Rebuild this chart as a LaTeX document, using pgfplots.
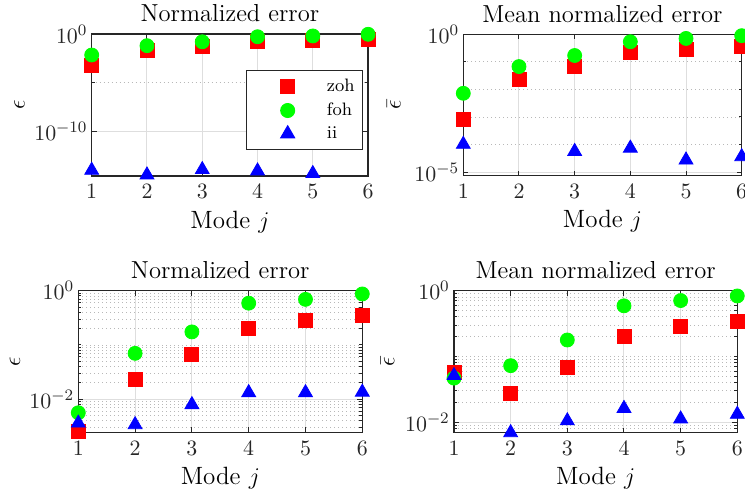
\documentclass[border=0pt]{standalone}
\usepackage{pgfplots}
\pgfplotsset{compat=1.18}
\definecolor{axc}{rgb}{0.15,0.15,0.15}

\pgfplotsset{
  myax/.style={
    scale only axis,
    xmin=1, xmax=6,
    xtick={1,...,6},
    ymax=1,
    axis line style={axc, line width=0.6pt},
    tick style={axc, line width=0.5pt},
    major tick length=2.5pt, minor tick length=1.5pt,
    tick align=inside,
    grid=both,
    major grid style={solid, black!13, line width=0.5pt},
    minor grid style={black!28, line width=0.4pt, dash pattern=on 0.5pt off 1.5pt},
    tick label style={font=\fontsize{11}{13}\selectfont, text=axc},
    xticklabel style={yshift=-0.8pt},
    yticklabel style={xshift=1.4pt},
    title style={font=\fontsize{12.3}{15}\selectfont, yshift=-3.6pt},
    xlabel style={font=\fontsize{12.5}{15}\selectfont, at={(axis description cs:0.5,0)}, anchor=base, yshift=-26pt},
    ylabel style={font=\fontsize{12.5}{15}\selectfont, at={(axis description cs:0,0.5)}, anchor=center},
    xlabel={Mode $j$},
  },
  myleg/.style={
    legend cell align=left,
    legend image code/.code={\path (-18.6pt,0pt) (17.35pt,0pt); \draw[##1] plot coordinates {(0pt,0pt)};},
  },
  zohs/.style={only marks, mark=square*, mark size=3.5pt, color=red, mark options={fill=red, draw=red}},
  fohs/.style={only marks, mark=*, mark size=3.5pt, color=green, mark options={fill=green, draw=green}},
  iis/.style={only marks, mark=triangle*, mark size=4pt, color=blue, mark options={fill=blue, draw=blue}},
}

\begin{document}
\begin{tikzpicture}
\path[use as bounding box] (0,0) rectangle (372.5pt,247.5pt);

% top left
\begin{axis}[ymode=log, myax, myleg,
  at={(45.85pt,159.5pt)}, anchor=south west,
  width=138.2pt, height=71pt,
  ymin=2.45e-15,
  ytick={1e-10,1}, minor ytick={1e-5},
  title={Normalized error},
  ylabel={$\epsilon$}, ylabel style={yshift=36.1pt},
  legend style={at={(0.981,0.746)}, anchor=north east, draw=axc, line width=0.5pt,
    font=\fontsize{9}{11}\selectfont, inner xsep=1.85pt, inner ysep=2.3pt, row sep=0pt},
]
\addplot[zohs] coordinates {(1,6.31e-4) (2,0.0191) (3,0.0501) (4,0.158) (5,0.204) (6,0.282)};
\addplot[fohs] coordinates {(1,6.92e-3) (2,0.0631) (3,0.158) (4,0.525) (5,0.631) (6,0.933)};
\addplot[iis] coordinates {(1,9.55e-15) (2,3.16e-15) (3,1.12e-14) (4,8.13e-15) (5,4.37e-15) (6,1.95e-15)};
\legend{zoh,foh,ii}
\end{axis}

% top right
\begin{axis}[ymode=log, myax,
  at={(231.65pt,159.65pt)}, anchor=south west,
  width=139.2pt, height=70.7pt,
  ymin=7.41e-6,
  ytick={1e-5,1}, minor ytick={1e-4,1e-3,1e-2,1e-1},
  title={Mean normalized error},
  ylabel={$\bar{\epsilon}$}, ylabel style={yshift=34.7pt},
]
\addplot[zohs] coordinates {(1,8.32e-4) (2,0.0240) (3,0.0676) (4,0.224) (5,0.288) (6,0.355)};
\addplot[fohs] coordinates {(1,7.24e-3) (2,0.0676) (3,0.170) (4,0.537) (5,0.708) (6,0.891)};
\addplot[iis] coordinates {(1,1.02e-4) (2,7.24e-6) (3,5.62e-5) (4,7.41e-5) (5,2.75e-5) (6,3.63e-5)};
\end{axis}

% bottom left
\begin{axis}[ymode=log, myax,
  at={(39.15pt,31.35pt)}, anchor=south west,
  width=142pt, height=70.8pt,
  ymin=2.45e-3,
  ytick={1e-2,1},
  minor ytick={3e-3,4e-3,5e-3,6e-3,7e-3,8e-3,9e-3,2e-2,3e-2,4e-2,5e-2,6e-2,7e-2,8e-2,9e-2,1e-1,2e-1,3e-1,4e-1,5e-1,6e-1,7e-1,8e-1,9e-1},
  title={Normalized error},
  ylabel={$\epsilon$}, ylabel style={yshift=31.7pt},
]
\addplot[zohs] coordinates {(1,2.51e-3) (2,0.0234) (3,0.0676) (4,0.204) (5,0.288) (6,0.355)};
\addplot[fohs] coordinates {(1,5.62e-3) (2,0.0700) (3,0.174) (4,0.589) (5,0.692) (6,0.871)};
\addplot[iis] coordinates {(1,3.63e-3) (2,3.39e-3) (3,7.94e-3) (4,0.0132) (5,0.0132) (6,0.0135)};
\end{axis}

% bottom right
\begin{axis}[ymode=log, myax,
  at={(227pt,31.15pt)}, anchor=south west,
  width=141.65pt, height=71pt,
  ymin=6.92e-3,
  ytick={1e-2,1},
  minor ytick={7e-3,8e-3,9e-3,2e-2,3e-2,4e-2,5e-2,6e-2,7e-2,8e-2,9e-2,1e-1,2e-1,3e-1,4e-1,5e-1,6e-1,7e-1,8e-1,9e-1},
  title={Mean normalized error},
  ylabel={$\bar{\epsilon}$}, ylabel style={yshift=33.2pt},
]
\addplot[zohs] coordinates {(1,0.0575) (2,0.0275) (3,0.0692) (4,0.200) (5,0.288) (6,0.347)};
\addplot[fohs] coordinates {(1,0.0468) (2,0.0724) (3,0.178) (4,0.589) (5,0.708) (6,0.832)};
\addplot[iis] coordinates {(1,0.0513) (2,6.92e-3) (3,0.0105) (4,0.0162) (5,0.0112) (6,0.0132)};
\end{axis}
\end{tikzpicture}
\end{document}
